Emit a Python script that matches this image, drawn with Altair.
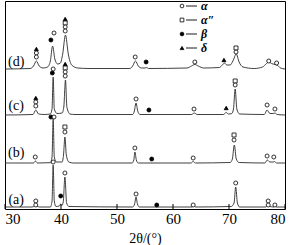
import altair as alt
import pandas as pd

# ---- trace vertices (2theta in degrees, stacked intensity in arbitrary units) ----
a_x = [30.0, 34.8, 35.3, 35.5, 35.7, 36.2, 38.1, 38.4, 38.6, 38.8, 39.1, 39.7, 39.95, 40.15, 40.4, 40.7, 41.0, 41.4,
       52.8, 53.15, 53.4, 53.65, 54.0, 63.4, 63.7, 64.0, 70.4, 70.9, 71.2, 71.5, 71.9, 76.6, 76.95, 77.3, 78.0, 78.25, 78.5, 80.0]
a_y = [2, 2, 3, 4.5, 3, 2, 2, 8, 44, 8, 2.5, 3, 5, 3.5, 7, 32, 6, 2.5,
       2, 5, 12, 5, 2, 2, 3.5, 2, 2.5, 6, 22, 6, 2, 2, 5, 2.5, 2, 3, 2, 2]

b_x = [30.0, 35.1, 35.45, 35.8, 38.1, 38.4, 38.6, 38.8, 39.2, 40.2, 40.45, 40.7, 40.95, 41.4, 42.2,
       52.7, 53.0, 53.2, 53.45, 53.8, 63.2, 63.6, 64.0, 70.2, 70.6, 70.95, 71.3, 71.8, 76.4, 76.85, 77.3, 77.9, 78.1, 78.5, 80.0]
b_y = [46, 46, 48, 46, 46.3, 52, 90, 52, 47, 47, 54, 72, 54, 47, 46,
       46, 49, 57, 49, 46, 46, 47.5, 46, 46.5, 50, 64, 50, 46.5, 46, 49, 47, 47, 47.5, 46, 46]

c_x = [30.0, 35.0, 35.5, 36.0, 37.0, 38.1, 38.4, 38.6, 38.8, 39.3, 40.2, 40.5, 40.8, 41.05, 41.6, 42.5,
       52.8, 53.1, 53.4, 53.7, 54.1, 63.3, 63.8, 64.3, 69.0, 69.5, 69.9, 70.5, 70.8, 71.1, 71.4, 71.9,
       76.3, 76.8, 77.3, 77.9, 78.2, 78.6, 80.0]
c_y = [94, 94.5, 99, 95, 94.5, 95, 100, 132, 100, 95.5, 96, 102, 129, 102, 95, 94.5,
       94.5, 98, 106, 98, 94.5, 94.5, 96, 94.5, 94.5, 96.5, 95, 95.5, 100, 120, 100, 95,
       94.5, 99, 95.5, 95.5, 96, 94.5, 94]

d_x = [30.0, 34.5, 35.1, 35.6, 36.1, 36.8, 37.6, 38.1, 38.5, 38.9, 39.4, 39.9, 40.3, 40.8, 41.3, 41.9, 43.0, 45.0,
       52.3, 52.8, 53.3, 53.8, 54.4, 55.0, 55.3, 55.6, 62.5, 63.3, 63.9, 64.5, 65.5, 68.3, 68.8, 69.2, 69.6, 70.2,
       70.7, 71.3, 71.8, 72.5, 74.5, 76.0, 76.7, 77.1, 77.6, 78.2, 78.6, 79.2, 80.0]
d_y = [140, 140.5, 143, 148, 143, 141, 142, 148, 163, 150, 145, 146, 155, 174, 155, 144, 141, 140.5,
       140.5, 143, 148, 143, 141, 141, 141.5, 140.5, 141, 143, 144.5, 143, 141, 141.5, 144, 146, 144, 144,
       148, 155, 147, 142, 140.5, 142, 145.5, 147, 145.5, 144.5, 144, 141, 140]

# ---- phase markers ----
m_x = [35.6, 35.6, 35.6, 38.2, 38.75, 40.75, 40.75, 40.75, 40.75, 53.25, 55.2, 63.9, 69.1, 71.25, 71.25, 77.1, 78.5,
       35.5, 35.5, 35.5, 38.45, 38.6, 40.75, 40.75, 40.75, 40.75, 53.4, 55.7, 63.75, 69.5, 71.1, 71.1, 76.8, 78.2,
       35.4, 38.2, 38.75, 40.7, 40.7, 53.2, 56.2, 63.6, 70.9, 70.9, 76.8, 78.0,
       35.5, 35.5, 38.6, 39.95, 40.7, 53.4, 57.1, 63.6, 71.2, 77.0, 77.0, 78.2]
m_y = [160, 156, 152, 169, 176, 190, 186, 182, 178, 152, 147, 147, 149, 161, 157, 148, 146,
       111, 107, 103, 136, 140, 145, 141, 137, 133, 110, 99, 100, 101, 128, 124, 104, 100,
       52, 92, 92, 82, 77, 61, 50, 51, 74, 69, 53, 52,
       8, 4, 47, 13, 36, 15, 4, 4, 26, 8, 4, 4]
m_p = ["δ", "α", "α", "β", "α", "δ", "α″", "α", "α", "α", "β", "α", "δ", "α″", "α", "α", "α",
       "δ", "α", "α", "β", "α", "δ", "α″", "α", "α", "α", "β", "α", "δ", "α″", "α", "α", "α",
       "α", "β", "α", "α″", "α", "α", "β", "α", "α″", "α", "α", "α",
       "α", "α", "α", "β", "α", "α", "β", "α", "α", "α", "α", "α"]

phases = ["α", "α″", "β", "δ"]
phase_shapes = ["circle", "square", "circle", "triangle-up"]
phase_fills = ["white", "white", "black", "black"]

sample_names = ["(a)", "(b)", "(c)", "(d)"]
sample_label_y = [9, 56, 103, 147]

tick_values = [30, 40, 50, 60, 70, 80]

# ---- build tables ----
rows = []
for name, xs, ys in zip(sample_names, [a_x, b_x, c_x, d_x], [a_y, b_y, c_y, d_y]):
    for i, (xx, yy) in enumerate(zip(xs, ys)):
        rows.append({"s": name, "x": xx, "y": yy, "o": i})
traces = pd.DataFrame(rows)
markers = pd.DataFrame({"x": m_x, "y": m_y, "p": m_p})
labels = pd.DataFrame({"s": sample_names, "x": [32.0] * 4, "y": sample_label_y})
ticks = pd.DataFrame({"x": tick_values, "y0": [0] * 6, "y1": [5] * 6})

xscale = alt.Scale(domain=[30, 80], nice=False, zero=False)
yscale = alt.Scale(domain=[0, 208], nice=False, zero=False)

serif = "Liberation Serif"

lines = alt.Chart(traces).mark_line(color="#2a2a2a", strokeWidth=0.9, interpolate="monotone").encode(
    x=alt.X("x:Q", scale=xscale, title="2θ/(°)",
            axis=alt.Axis(values=tick_values, ticks=False, tickSize=0, domain=False, grid=False,
                          labelFont=serif, labelFontSize=15, labelColor="black", labelPadding=2,
                          titleFont=serif, titleFontSize=14, titleFontWeight="normal", titleColor="black",
                          titlePadding=5)),
    y=alt.Y("y:Q", scale=yscale, axis=None),
    detail="s:N",
    order="o:Q",
)

pts = alt.Chart(markers).mark_point(filled=True, stroke="black", strokeWidth=0.8, size=16, opacity=1).encode(
    x=alt.X("x:Q", scale=xscale),
    y=alt.Y("y:Q", scale=yscale),
    shape=alt.Shape("p:N", scale=alt.Scale(domain=phases, range=phase_shapes), legend=None),
    fill=alt.Fill("p:N", scale=alt.Scale(domain=phases, range=phase_fills), legend=None),
)

lab = alt.Chart(labels).mark_text(font=serif, fontSize=14, color="black", align="center", baseline="middle").encode(
    x=alt.X("x:Q", scale=xscale),
    y=alt.Y("y:Q", scale=yscale),
    text="s:N",
)

tk = alt.Chart(ticks).mark_rule(color="black", strokeWidth=1).encode(
    x=alt.X("x:Q", scale=xscale),
    y=alt.Y("y0:Q", scale=yscale),
    y2="y1:Q",
)

layers = [lines, tk, pts, lab]

# ---- manual legend (symbol — label) ----
leg_rows_y = [5, 19, 33, 47]
for ph, shp, fl, ly in zip(phases, phase_shapes, phase_fills, leg_rows_y):
    one = pd.DataFrame({"t": [ph]})
    layers.append(alt.Chart(one).mark_point(shape=shp, fill=fl, filled=True, stroke="black",
                                            strokeWidth=0.8, size=14, opacity=1).encode(
        x=alt.value(177), y=alt.value(ly)))
    layers.append(alt.Chart(one).mark_rule(color="black", strokeWidth=0.9).encode(
        x=alt.value(181), x2=alt.value(192), y=alt.value(ly)))
    layers.append(alt.Chart(one).mark_text(font=serif, fontSize=12, fontStyle="italic", fontWeight="bold",
                                           align="left", baseline="middle", color="black").encode(
        x=alt.value(196), y=alt.value(ly), text="t:N"))

chart = alt.layer(*layers).properties(
    width=280, height=208,
    autosize=alt.AutoSizeParams(type="none"),
    padding={"left": 5, "top": 1, "right": 4, "bottom": 36},
    background="white",
).configure_view(stroke="black", strokeWidth=1)

chart.save("out.html", embed_options={"renderer": "svg", "actions": False})
